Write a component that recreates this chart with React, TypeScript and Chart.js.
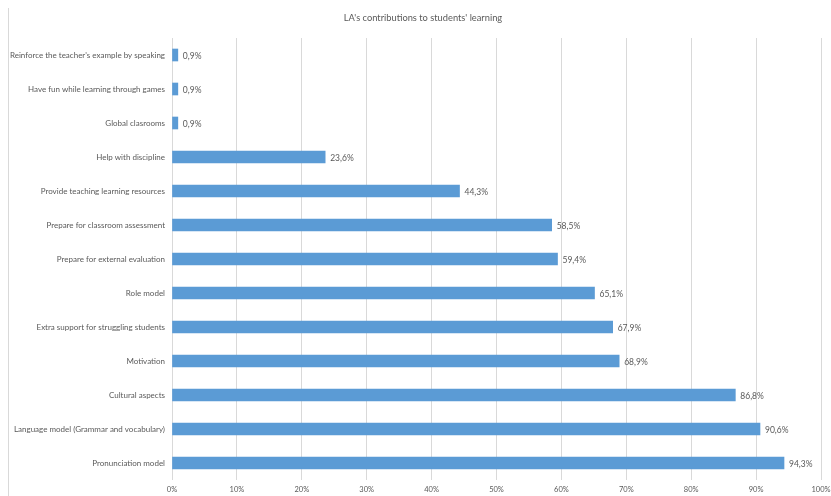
import React, { useEffect, useRef } from "react";
import { Chart, registerables } from "chart.js";

Chart.register(...registerables);

const categories = [
  "Reinforce the teacher's example by speaking",
  "Have fun while learning through games",
  "Global clasrooms",
  "Help with discipline",
  "Provide teaching learning resources",
  "Prepare for classroom assessment",
  "Prepare for external evaluation",
  "Role model",
  "Extra support for struggling students",
  "Motivation",
  "Cultural aspects",
  "Language model (Grammar and vocabulary)",
  "Pronunciation model",
];

const values = [0.9, 0.9, 0.9, 23.6, 44.3, 58.5, 59.4, 65.1, 67.9, 68.9, 86.8, 90.6, 94.3];

const xTicks = [0, 10, 20, 30, 40, 50, 60, 70, 80, 90, 100];

const titleText = "LA's contributions to students' learning";

const FONT = "Lato, 'Open Sans', sans-serif";
const TEXT_COLOR = "#595959";

const dataLabels = {
  id: "dataLabels",
  afterDatasetsDraw(chart: any) {
    const ctx = chart.ctx;
    const meta = chart.getDatasetMeta(0);
    ctx.save();
    ctx.font = `8.5px ${FONT}`;
    ctx.fillStyle = TEXT_COLOR;
    ctx.textAlign = "left";
    ctx.textBaseline = "middle";
    meta.data.forEach((bar: any, i: number) => {
      const v = values[i];
      const txt = v.toFixed(1).replace(".", ",") + "%";
      ctx.fillText(txt, bar.x + 5, bar.y + 1);
    });
    ctx.restore();
  },
};

const frameAndTitle = {
  id: "frameAndTitle",
  beforeDraw(chart: any) {
    const ctx = chart.ctx;
    ctx.save();
    ctx.strokeStyle = "#D9D9D9";
    ctx.lineWidth = 1;
    ctx.beginPath();
    ctx.moveTo(8.5, 8);
    ctx.lineTo(8.5, chart.height);
    ctx.stroke();
    ctx.font = `9.3px ${FONT}`;
    ctx.fillStyle = TEXT_COLOR;
    ctx.textAlign = "center";
    ctx.textBaseline = "middle";
    ctx.fillText(titleText, 423, 18);
    ctx.restore();
  },
};

export default function App() {
  const ref = useRef<HTMLCanvasElement>(null);

  useEffect(() => {
    if (!ref.current) return;
    const chart = new Chart(ref.current, {
      type: "bar",
      data: {
        labels: categories,
        datasets: [
          {
            data: values,
            backgroundColor: "#5B9BD5",
            borderWidth: 0,
            barThickness: 12,
          },
        ],
      },
      options: {
        indexAxis: "y",
        animation: false,
        responsive: true,
        maintainAspectRatio: false,
        layout: { padding: { left: 0, right: 10, top: 38, bottom: 0 } },
        plugins: {
          legend: { display: false },
          tooltip: { enabled: false },
          title: { display: false },
        },
        scales: {
          x: {
            min: 0,
            max: 100,
            afterBuildTicks(scale: any) {
              scale.ticks = xTicks.map((v) => ({ value: v }));
            },
            afterFit(scale: any) {
              scale.height = 16;
              scale.paddingLeft = 0;
              scale.paddingRight = 0;
            },
            ticks: {
              color: TEXT_COLOR,
              font: { family: FONT, size: 7.5 },
              padding: 5,
              callback: (v: any) => `${v}%`,
            },
            grid: { color: "#D9D9D9", drawTicks: false },
            border: { display: false },
          },
          y: {
            afterFit(scale: any) {
              scale.width = 172;
            },
            ticks: {
              color: TEXT_COLOR,
              font: { family: FONT, size: 8 },
              padding: 7,
            },
            grid: { display: false, drawTicks: false },
            border: { display: false },
          },
        },
      },
      plugins: [frameAndTitle, dataLabels],
    });
    return () => chart.destroy();
  }, []);

  return (
    <div style={{ position: "fixed", left: 0, top: 0, width: 831, height: 496, background: "#fff" }}>
      <canvas ref={ref} />
    </div>
  );
}
